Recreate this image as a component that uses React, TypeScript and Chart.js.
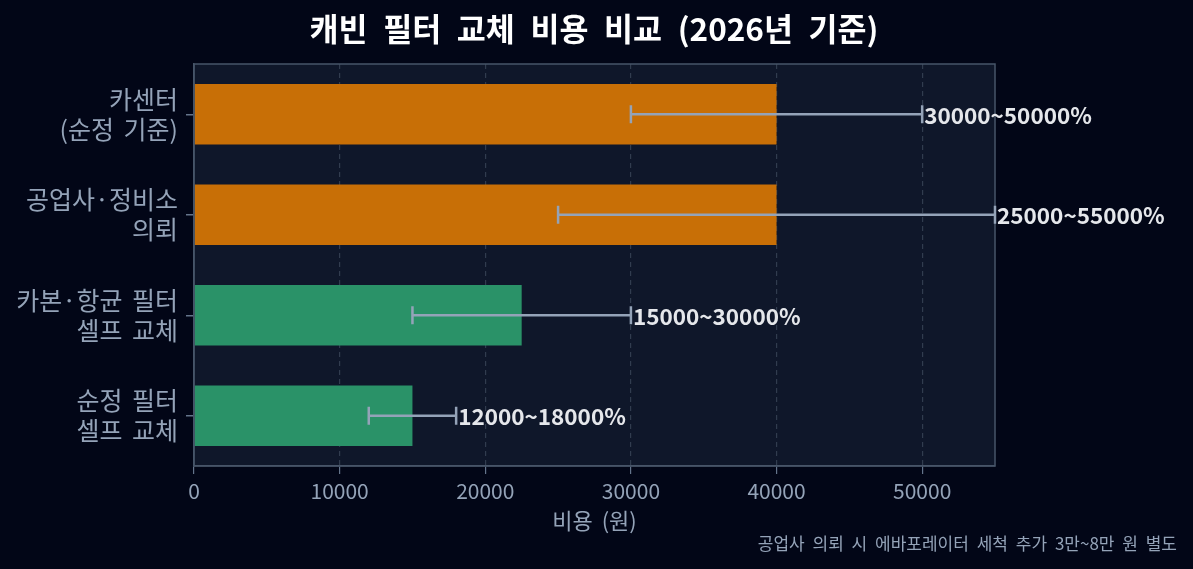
import React, { useEffect, useRef } from "react";
import { Chart, registerables, Plugin } from "chart.js";

Chart.register(...registerables);

const categories: string[][] = [
  ["카센터", "(순정 기준)"],
  ["공업사·정비소", "의뢰"],
  ["카본·항균 필터", "셀프 교체"],
  ["순정 필터", "셀프 교체"],
];
const midCost = [40000, 40000, 22500, 15000];
const lowCost = [30000, 25000, 15000, 12000];
const highCost = [50000, 55000, 30000, 18000];
const barColors = ["#c86f06", "#c86f06", "#2a9268", "#2a9268"];
const xTicks = [0, 10000, 20000, 30000, 40000, 50000];

const FONT = "'Noto Sans CJK KR', 'Noto Sans', sans-serif";

const backgroundPlugin: Plugin<"bar"> = {
  id: "backgroundPlugin",
  beforeDraw(chart) {
    const { ctx, chartArea, width, height } = chart;
    ctx.save();
    ctx.fillStyle = "#020617";
    ctx.fillRect(0, 0, width, height);
    ctx.fillStyle = "#0f172a";
    ctx.fillRect(chartArea.left, chartArea.top, chartArea.right - chartArea.left, chartArea.bottom - chartArea.top);
    ctx.restore();
    // wider word gaps, like the reference font
    (ctx as any).wordSpacing = "4px";
  },
};

const errorBarPlugin: Plugin<"bar"> = {
  id: "errorBarPlugin",
  afterDraw(chart) {
    const { ctx, chartArea } = chart;
    const xs = chart.scales.x;
    const ys = chart.scales.y;
    ctx.save();
    // frame round the plot area
    ctx.strokeStyle = "#475569";
    ctx.lineWidth = 1.5;
    ctx.strokeRect(chartArea.left, chartArea.top, chartArea.right - chartArea.left, chartArea.bottom - chartArea.top);

    ctx.strokeStyle = "#94a3b8";
    ctx.lineWidth = 2.5;
    ctx.font = `bold 22.5px ${FONT}`;
    ctx.textBaseline = "middle";
    ctx.textAlign = "left";
    lowCost.forEach((lo, i) => {
      const hi = highCost[i];
      const y = ys.getPixelForValue(i);
      const x1 = xs.getPixelForValue(lo);
      const x2 = xs.getPixelForValue(hi);
      ctx.beginPath();
      ctx.moveTo(x1, y);
      ctx.lineTo(x2, y);
      ctx.moveTo(x1, y - 9);
      ctx.lineTo(x1, y + 9);
      ctx.moveTo(x2, y - 9);
      ctx.lineTo(x2, y + 9);
      ctx.stroke();
      ctx.fillStyle = "#e5e7eb";
      ctx.fillText(`${lo}~${hi}%`, x2 + 2, y + 1);
    });

    // title
    (ctx as any).wordSpacing = "8.5px";
    ctx.font = `bold 31.5px ${FONT}`;
    ctx.fillStyle = "#ffffff";
    ctx.textAlign = "center";
    ctx.fillText("캐빈 필터 교체 비용 비교 (2026년 기준)", 594, 29);

    // footnote
    (ctx as any).wordSpacing = "4px";
    ctx.font = `17px ${FONT}`;
    ctx.fillStyle = "#94a3b8";
    ctx.textAlign = "right";
    ctx.fillText("공업사 의뢰 시 에바포레이터 세척 추가 3만~8만 원 별도", chart.width - 16, 544);
    ctx.restore();
    (ctx as any).wordSpacing = "0px";
  },
};

const App: React.FC = () => {
  const canvasRef = useRef<HTMLCanvasElement | null>(null);

  useEffect(() => {
    document.body.style.margin = "0";
    document.body.style.background = "#020617";
    const ctx = canvasRef.current?.getContext("2d");
    if (!ctx) return;
    const chart = new Chart(ctx, {
      type: "bar",
      data: {
        labels: categories,
        datasets: [
          {
            data: midCost,
            backgroundColor: barColors,
            borderWidth: 0,
            barPercentage: 0.6,
            categoryPercentage: 1,
          },
        ],
      },
      options: {
        indexAxis: "y",
        animation: false,
        responsive: true,
        maintainAspectRatio: false,
        layout: { padding: { left: 0, right: 198, top: 64, bottom: 33 } },
        plugins: {
          legend: { display: false },
          tooltip: { enabled: false },
          title: { display: false },
        },
        scales: {
          x: {
            type: "linear",
            min: 0,
            max: 55000,
            afterBuildTicks(scale) {
              scale.ticks = xTicks.map((v) => ({ value: v }));
            },
            afterFit(scale) {
              scale.height = 70;
            },
            ticks: {
              color: "#94a3b8",
              font: { family: FONT, size: 21, lineHeight: 1.2 },
              padding: 4,
              callback: (v) => String(v),
            },
            grid: {
              color: "rgba(71,85,105,0.6)",
              lineWidth: 1.2,
              tickColor: "#64748b",
              tickLength: 8,
              tickBorderDash: [],
            },
            border: { color: "#475569", width: 1.5, dash: [5, 4] },
            title: {
              display: true,
              text: "비용 (원)",
              color: "#94a3b8",
              font: { family: FONT, size: 22, lineHeight: 1.2 },
              padding: { top: 0, bottom: 2 },
            },
          },
          y: {
            type: "category",
            offset: true,
            afterFit(scale) {
              scale.width = 194;
            },
            ticks: {
              color: "#94a3b8",
              font: { family: FONT, size: 25, lineHeight: 1.2 },
              padding: 8,
            },
            grid: {
              display: true,
              drawOnChartArea: false,
              offset: false,
              tickLength: 8,
              tickColor: "#64748b",
              lineWidth: 1.5,
            },
            border: { color: "#475569", width: 1.5 },
          },
        },
      },
      plugins: [backgroundPlugin, errorBarPlugin],
    });
    return () => {
      chart.destroy();
    };
  }, []);

  return (
    <div style={{ position: "absolute", left: 0, top: 0, width: "1193px", height: "569px" }}>
      <canvas ref={canvasRef} />
    </div>
  );
};

export default App;
